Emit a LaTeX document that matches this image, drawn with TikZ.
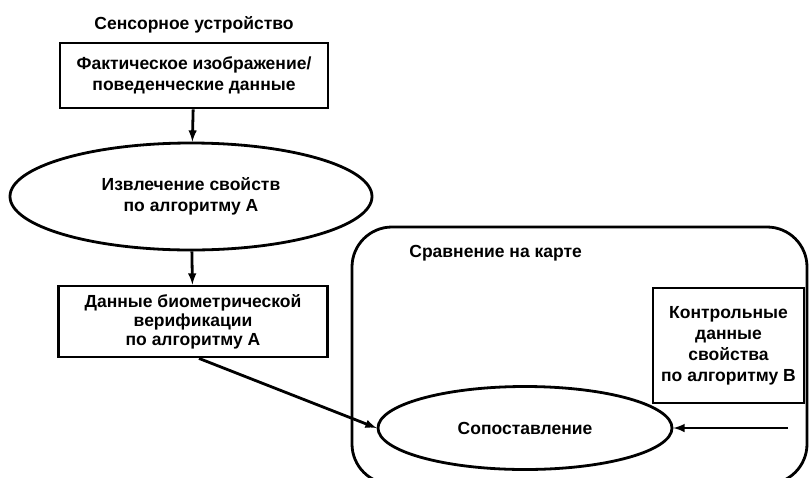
\documentclass[tikz,border=0pt]{standalone}
\usepackage{fontspec}
\setmainfont{Liberation Sans}
\usetikzlibrary{shapes.geometric}

\begin{document}
\begin{tikzpicture}[x=1pt,y=1pt,line width=2.8pt,>=latex]
\tikzstyle{every node}+=[inner sep=0pt,align=center,font=\bfseries\fontsize{17.5}{21}\selectfont]
\useasboundingbox (0,0) rectangle (810,-477);
\draw [black, rounded corners=40] (352,-227) rectangle (807,-484);
\node (dev) at (194,-25) {Сенсорное устройство};
\node (raw) [draw, minimum width=268, minimum height=65] at (194,-75.5) {Фактическое изображение/\\поведенческие данные};
\node (extr) [draw, ellipse, minimum width=362, minimum height=107] at (191,-196.5) {Извлечение свойств\\по алгоритму A};
\node (ver) [draw, minimum width=269, minimum height=71, font=\bfseries\fontsize{17.5}{19}\selectfont] at (193,-321.5) {Данные биометрической\\верификации\\по алгоритму A};
\node (card) [anchor=west] at (408,-253) {Сравнение на карте};
\node (ref) [draw, minimum width=151, minimum height=115] at (728.5,-345.5) {Контрольные\\данные\\свойства\\по алгоритму B};
\node (match) [draw, ellipse, minimum width=294, minimum height=83] at (525,-428) {Сопоставление};
\coordinate (in) at (788,-428);
\draw [->] (raw) -- (extr);
\draw [->] (extr) -- (ver);
\draw [->] ([xshift=6]ver.south) -- (match.west);
\draw [->] (in) -- (match.east);
\end{tikzpicture}
\end{document}
